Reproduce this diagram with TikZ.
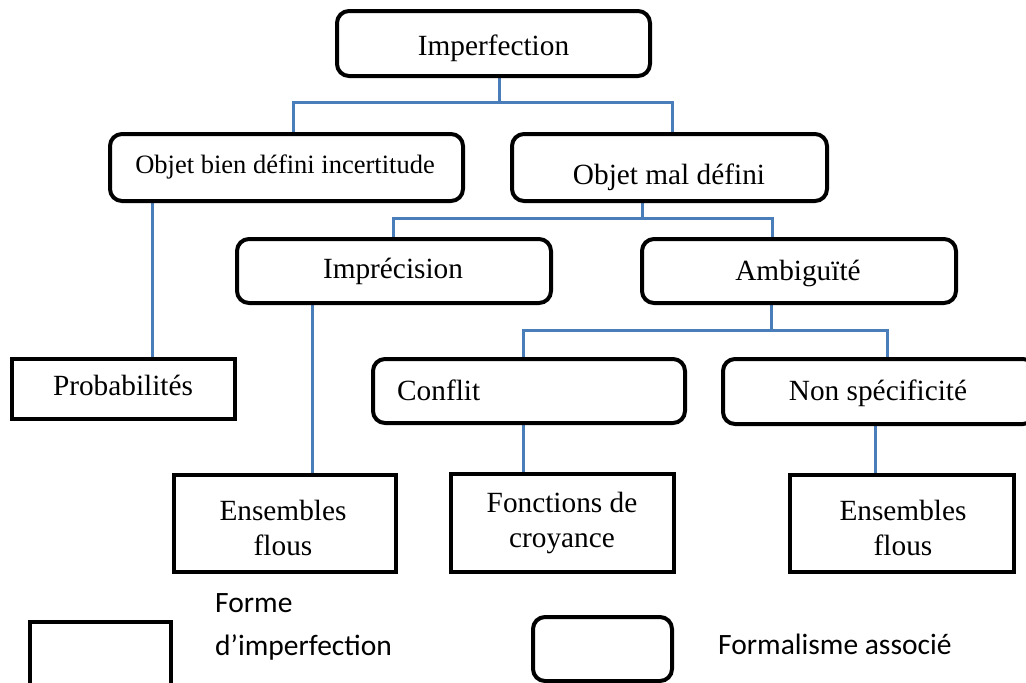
\documentclass[tikz,border=0pt]{standalone}
\usepackage{fontspec}
\setmainfont{Liberation Serif}
\newfontfamily\legendfont{Carlito}
\usetikzlibrary{backgrounds}
\definecolor{linkblue}{RGB}{74,126,187}
\begin{document}
\begin{tikzpicture}[x=1pt,y=-1pt,
  box/.style={draw=black,line width=4pt,inner sep=0pt,fill=white},
  roundbox/.style={box,rounded corners=12pt},
  sharpbox/.style={box},
  lbl/.style={anchor=base,inner sep=0pt,font=\fontsize{29.3}{35}\selectfont},
  smalllbl/.style={lbl,font=\fontsize{26.5}{32}\selectfont},
  legtxt/.style={anchor=base west,inner sep=0pt,font=\legendfont\fontsize{29.5}{35}\selectfont},
  link/.style={draw=linkblue,line width=3pt},
]
\useasboundingbox (0,0) rectangle (1026,683);
\clip (0,0) rectangle (1026,683);

% forms of imperfection (rounded boxes)
\node[roundbox,minimum width=313pt,minimum height=65pt] (imperf) at (493.5,43.5) {};
\node[roundbox,minimum width=353pt,minimum height=67pt] (obd) at (286.5,167.5) {};
\node[roundbox,minimum width=315pt,minimum height=67pt] (omd) at (669.5,167.5) {};
\node[roundbox,minimum width=314pt,minimum height=64pt] (impr) at (394,271) {};
\node[roundbox,minimum width=314pt,minimum height=64pt] (ambig) at (799,271) {};
\node[roundbox,minimum width=312pt,minimum height=64pt] (conflit) at (529,391) {};
\node[roundbox,minimum width=312pt,minimum height=65pt] (nonspec) at (879,391.5) {};

% associated formalisms (square boxes)
\node[sharpbox,minimum width=223pt,minimum height=60pt] (proba) at (123.5,389) {};
\node[sharpbox,minimum width=222pt,minimum height=97pt] (ens1) at (285,523.5) {};
\node[sharpbox,minimum width=223pt,minimum height=98pt] (fonct) at (562.5,523) {};
\node[sharpbox,minimum width=224pt,minimum height=97pt] (ens2) at (902,523.5) {};

% box texts
\node[lbl] (imperf-t) at (493.5,55) {Imperfection};
\node[smalllbl] (obd-t) at (285,173) {Objet bien défini incertitude};
\node[lbl] (omd-t) at (669,184) {Objet mal défini};
\node[lbl] (impr-t) at (393,278) {Imprécision};
\node[lbl] (ambig-t) at (798,280) {Ambiguïté};
\node[lbl,anchor=base west] (conflit-t) at (397,400) {Conflit};
\node[lbl] (nonspec-t) at (878,400) {Non spécificité};
\node[lbl] (proba-t) at (123,395) {Probabilités};
\node[lbl] (ens1-a) at (283,520) {Ensembles};
\node[lbl] (ens1-b) at (283,555) {flous};
\node[lbl] (fonct-a) at (562,512) {Fonctions de};
\node[lbl] (fonct-b) at (562,547) {croyance};
\node[lbl] (ens2-a) at (903,520) {Ensembles};
\node[lbl] (ens2-b) at (903,555) {flous};

% legend
\node[sharpbox,minimum width=141pt,minimum height=78pt] (legsq) at (100.5,661) {};
\node[roundbox,minimum width=139pt,minimum height=64pt] (legrnd) at (602.5,649) {};
\node[legtxt] (legsq-a) at (215,612) {Forme};
\node[legtxt] (legsq-b) at (215,655) {d’imperfection};
\node[legtxt] (legrnd-t) at (718,654) {Formalisme associé};

% connectors
\begin{scope}[on background layer]
  \coordinate (j1) at (499,102);
  \coordinate (j2) at (642,218);
  \coordinate (j3) at (771,330);
  \draw[link] ([xshift=5.5pt]imperf.south) -- (j1);
  \draw[link] ([xshift=6.5pt]obd.north) |- ([xshift=2.5pt]omd.north |- j1) -- ([xshift=2.5pt]omd.north);
  \draw[link] ([xshift=-27.5pt]omd.south) -- (j2);
  \draw[link] ([xshift=-1pt]impr.north) |- ([xshift=-27pt]ambig.north |- j2) -- ([xshift=-27pt]ambig.north);
  \draw[link] ([xshift=-28pt]ambig.south) -- (j3);
  \draw[link] ([xshift=-6pt]conflit.north) |- ([xshift=8pt]nonspec.north |- j3) -- ([xshift=8pt]nonspec.north);
  \draw[link] ([xshift=-134.5pt]obd.south) -- ([xshift=-134.5pt]obd.south |- proba.north);
  \draw[link] ([xshift=-82pt]impr.south) -- ([xshift=-82pt]impr.south |- ens1.north);
  \draw[link] ([xshift=-6pt]conflit.south) -- ([xshift=-6pt]conflit.south |- fonct.north);
  \draw[link] ([xshift=-4pt]nonspec.south) -- ([xshift=-4pt]nonspec.south |- ens2.north);
\end{scope}
\end{tikzpicture}
\end{document}
